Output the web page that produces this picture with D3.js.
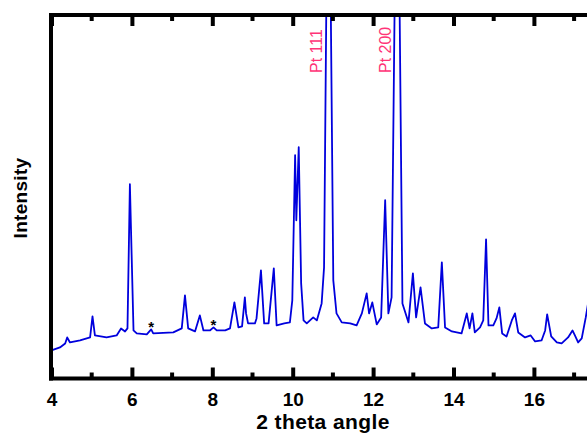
<!DOCTYPE html>
<html>
<head>
<meta charset="utf-8">
<script src="https://cdn.jsdelivr.net/npm/d3@7"></script>
<style>
  html, body { margin: 0; padding: 0; background: #fff; }
  svg { display: block; }
  svg text { font-family: "Liberation Sans", Arial, Helvetica, sans-serif; }
</style>
</head>
<body>
<svg id="chart" width="587" height="433"></svg>
<script>
// ---- data ----
const twoTheta = [4.00,4.21,4.34,4.39,4.46,4.71,4.96,5.02,5.08,5.37,5.62,5.73,5.83,5.89,5.95,6.04,6.12,6.37,6.48,6.53,
  7.03,7.24,7.32,7.40,7.57,7.69,7.78,7.94,8.03,8.11,8.32,8.44,8.55,8.65,8.74,8.81,8.84,8.89,9.06,9.10,
  9.21,9.29,9.40,9.53,9.60,9.79,9.93,9.99,10.06,10.09,10.15,10.21,10.27,10.35,10.51,10.60,10.72,10.78,10.89,11.01,
  11.09,11.22,11.43,11.59,11.72,11.84,11.90,11.98,12.09,12.20,12.30,12.38,12.46,12.60,12.73,12.88,12.99,13.07,13.18,13.29,
  13.46,13.62,13.71,13.79,13.96,14.20,14.33,14.40,14.47,14.53,14.66,14.74,14.81,14.87,14.99,15.07,15.14,15.21,15.32,15.45,
  15.53,15.61,15.78,15.92,16.03,16.19,16.28,16.33,16.43,16.57,16.69,16.85,16.96,17.02,17.10,17.19,17.29,17.40];
const intensity = [28,31,35,41,36,38,41,62,43,41,43,50,47,50,194,48,45,44,49,45,
  46,50,83,50,47,63,48,48,51,48,48,50,76,51,52,81,65,55,55,60,
  108,55,55,110,53,55,56,78,223,158,231,95,58,55,61,58,75,111,620,98,
  65,56,55,53,65,85,65,76,54,61,178,65,81,620,75,56,105,61,91,55,
  50,51,116,51,47,45,65,50,65,46,51,58,139,53,53,60,71,45,42,58,
  65,46,41,43,37,38,48,64,42,36,35,41,48,43,36,40,61,88];
const majorTicks = [4, 6, 8, 10, 12, 14, 16];
const minorTicks = [5, 7, 9, 11, 13, 15, 17];
const peakLabels = [{text: "Pt 111", pos: 10.89}, {text: "Pt 200", pos: 12.60}];
const starPositions = [6.48, 8.03];
const starIntensity = [49, 51];

// ---- layout ----
const svg = d3.select("#chart");
const plotLeft = 51, plotTop = 15, plotBottom = 378.5;
const x = d3.scaleLinear().domain([4, 18]).range([51.5, 51.5 + 14 * 40.2]);
const y = d3.scaleLinear().domain([0, 363]).range([plotBottom, plotTop]);

svg.append("defs").append("clipPath").attr("id", "plotclip")
  .append("rect").attr("x", plotLeft).attr("y", plotTop).attr("width", 700).attr("height", plotBottom - plotTop);

// trace
const pts = twoTheta.map((t, i) => [t, intensity[i]]);
svg.append("path")
  .attr("clip-path", "url(#plotclip)")
  .attr("d", d3.line().x(d => x(d[0])).y(d => y(d[1]))(pts))
  .attr("fill", "none")
  .attr("stroke", "#0000dd")
  .attr("stroke-width", 1.8)
  .attr("stroke-linejoin", "round");

// stars
svg.selectAll("text.star").data(starPositions).join("text")
  .attr("class", "star")
  .attr("x", d => x(d))
  .attr("y", (d, i) => y(starIntensity[i]) + 3)
  .attr("text-anchor", "middle")
  .style("font-weight", "bold")
  .style("font-size", "15px")
  .attr("fill", "#000")
  .text("*");

// peak labels
svg.selectAll("text.pk").data(peakLabels).join("text")
  .attr("class", "pk")
  .attr("transform", d => `translate(${x(d.pos) - 6.5},73) rotate(-90)`)
  .attr("text-anchor", "start")
  .style("font-size", "16px")
  .attr("fill", "#ff3377")
  .text(d => d.text);

// bottom axis (ticks inward)
const axB = d3.axisBottom(x).tickValues(majorTicks).tickSize(-11).tickPadding(14).tickFormat(d3.format("d"));
const gB = svg.append("g").attr("transform", `translate(0,${plotBottom})`).call(axB);
gB.select(".domain").remove();
gB.attr("font-family", null);
gB.selectAll(".tick line").attr("stroke", "#000").attr("stroke-width", 4);
gB.selectAll(".tick text").style("font-weight", "bold").style("font-size", "19px").attr("fill", "#000");
svg.append("g").selectAll("line").data(minorTicks).join("line")
  .attr("x1", d => x(d)).attr("x2", d => x(d))
  .attr("y1", plotBottom).attr("y2", plotBottom - 6)
  .attr("stroke", "#000").attr("stroke-width", 4);

// top axis ticks
const axT = d3.axisTop(x).tickValues(majorTicks).tickSize(-11).tickFormat("");
const gT = svg.append("g").attr("transform", `translate(0,${plotTop})`).call(axT);
gT.select(".domain").remove();
gT.selectAll(".tick line").attr("stroke", "#000").attr("stroke-width", 4);
svg.append("g").selectAll("line").data(minorTicks).join("line")
  .attr("x1", d => x(d)).attr("x2", d => x(d))
  .attr("y1", plotTop).attr("y2", plotTop + 6)
  .attr("stroke", "#000").attr("stroke-width", 4);

// frame
svg.append("line").attr("x1", plotLeft).attr("x2", plotLeft).attr("y1", plotTop - 2).attr("y2", plotBottom + 2)
  .attr("stroke", "#000").attr("stroke-width", 4);
svg.append("line").attr("x1", plotLeft - 2).attr("x2", 640).attr("y1", plotTop).attr("y2", plotTop)
  .attr("stroke", "#000").attr("stroke-width", 4);
svg.append("line").attr("x1", plotLeft - 2).attr("x2", 640).attr("y1", plotBottom).attr("y2", plotBottom)
  .attr("stroke", "#000").attr("stroke-width", 4);

// axis titles
svg.append("text")
  .attr("x", 323).attr("y", 429)
  .attr("text-anchor", "middle")
  .style("font-weight", "bold").style("font-size", "21px").style("letter-spacing", "0.4px")
  .text("2 theta angle");
svg.append("text")
  .attr("transform", "translate(27,198) rotate(-90)")
  .attr("text-anchor", "middle")
  .style("font-weight", "bold").style("font-size", "19px").style("letter-spacing", "0.3px")
  .text("Intensity");
</script>
</body>
</html>
